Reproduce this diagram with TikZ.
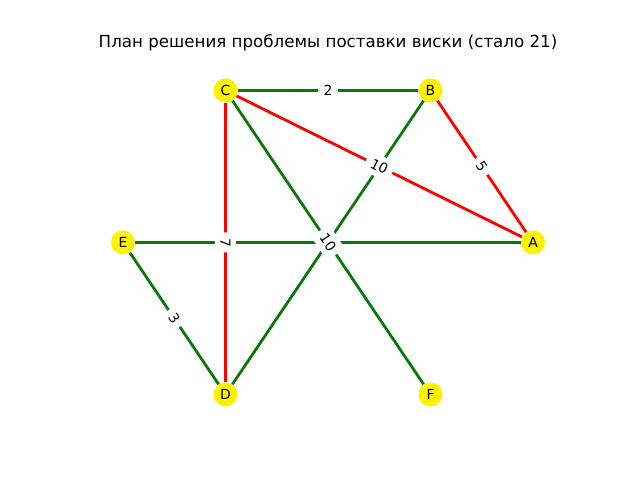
\documentclass[tikz,border=0pt]{standalone}
\usepackage{fontspec}
\setmainfont{DejaVu Sans}
\definecolor{mplgreen}{HTML}{087808}
\pgfdeclarelayer{bg}
\pgfsetlayers{bg,main}
\begin{document}
\begin{tikzpicture}[x=0.72pt,y=-0.72pt,
  vert/.style={circle,fill=yellow,minimum size=17.32pt,inner sep=0pt,font=\fontsize{10}{12}\selectfont},
  redge/.style={draw=red,line width=2pt},
  gedge/.style={draw=mplgreen,line width=2pt},
  lbl/.style={fill=white,rounded corners=3pt,inner sep=4pt,font=\fontsize{10}{12}\selectfont}]
\useasboundingbox (0,0) rectangle (640,480);
\node[font=\fontsize{12}{14}\selectfont] (title) at (328,43) {План решения проблемы поставки виски (стало 21)};
\node[vert] (A) at (533,242.4) {A};
\node[vert] (B) at (430.5,90.4) {B};
\node[vert] (C) at (225.5,90.4) {C};
\node[vert] (E) at (123,242.4) {E};
\node[vert] (D) at (225.5,394.5) {D};
\node[vert] (F) at (430.5,394.5) {F};
\begin{pgfonlayer}{bg}
\draw[gedge] (C) -- (B);
\draw[redge] (C) -- (A);
\draw[redge] (B) -- (A);
\draw[redge] (C) -- (D);
\draw[gedge] (E) -- (A);
\draw[gedge] (C) -- (F);
\draw[gedge] (B) -- (D);
\draw[gedge] (E) -- (D);
\end{pgfonlayer}
\path (C) -- node[lbl] (l2) {2} (B);
\path (C) -- node[lbl,rotate=-26.3] (l10a) {10} (A);
\path (B) -- node[lbl,rotate=-56] (l5) {5} (A);
\path (C) -- node[lbl,rotate=-90] (l7) {7} (D);
\path (E) -- node[lbl,rotate=-56] (l3) {3} (D);
\path (C) -- node[lbl,rotate=-56] (l10b) {10} (F);
\end{tikzpicture}
\end{document}
